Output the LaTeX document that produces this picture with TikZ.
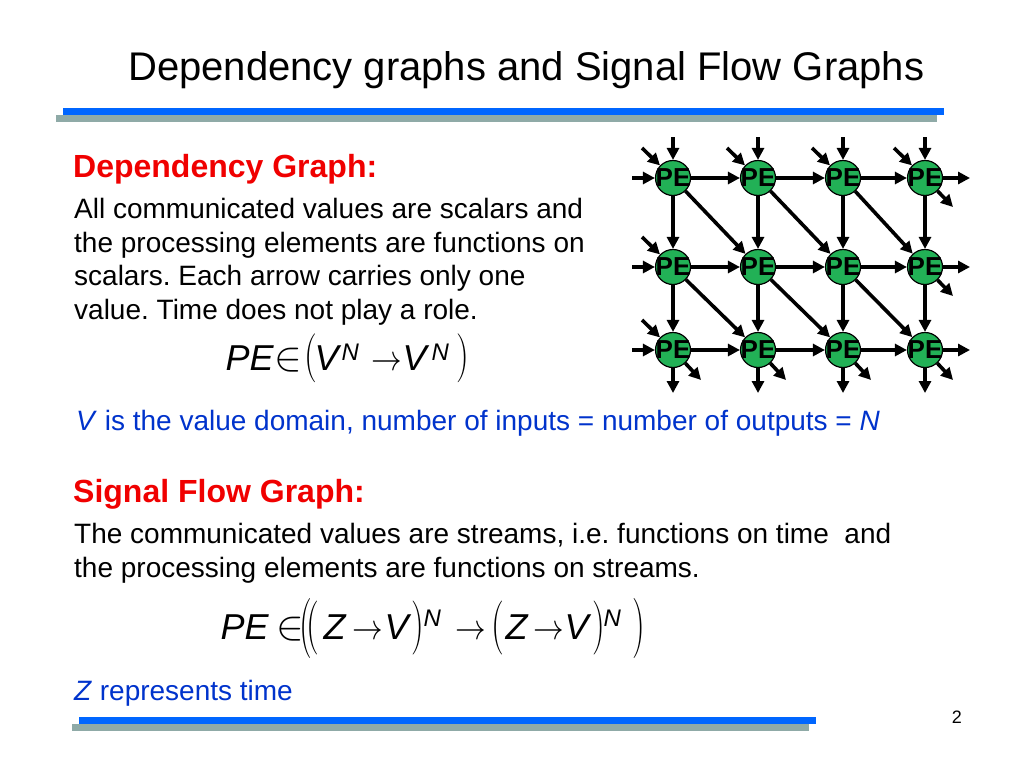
\RequirePackage{fix-cm}
\documentclass[tikz,border=0pt]{standalone}
\usepackage{fontspec}
\setmainfont{Liberation Sans}
\usepackage{graphicx}
\usetikzlibrary{arrows.meta,calc}
\definecolor{barblue}{RGB}{0,102,255}
\definecolor{bargray}{RGB}{143,170,167}
\definecolor{hred}{RGB}{240,0,0}
\definecolor{tblue}{RGB}{0,51,204}
\definecolor{pegreen}{RGB}{34,177,86}
\newcommand{\fs}[1]{\fontsize{#1}{#1}\selectfont}
\newcommand{\supN}[1]{\raisebox{#1}{\fs{24}\itshape N}}
\newcommand{\elem}{\scalebox{1.15}{$\in$}}
\frenchspacing
\begin{document}
\begin{tikzpicture}[x=1pt,y=-1pt,
  txt/.style={anchor=base west, inner sep=0pt, font=\fs{28}},
  head/.style={anchor=base west, inner sep=0pt, font=\fs{32}\bfseries, text=hred},
  pe/.style={circle, draw=black, line width=1.2pt, fill=pegreen, minimum size=35pt, inner sep=0pt, font=\fs{26}\bfseries},
  arr/.style={line width=3.6pt, -{Triangle[length=12pt,width=12pt]}}]
\useasboundingbox (0,0) rectangle (1024,768);
\fill[white] (0,0) rectangle (1024,768);
% bars
\fill[barblue] (63,108) rectangle (944,115);
\fill[bargray] (56,115) rectangle (937,122);
\fill[barblue] (79,717) rectangle (816,724);
\fill[bargray] (72,724) rectangle (809,731);
% title
\node[anchor=base west, inner sep=0pt, font=\fs{40}] (title) at (128,81) {Dependency graphs and Signal Flow Graphs};
% dependency graph text
\node[head] (h1) at (73,177) {Dependency Graph:};
\node[txt] (d1) at (74,218) {All communicated values are scalars and};
\node[txt] (d2) at (74,252) {the processing elements are functions on};
\node[txt] (d3) at (74,285) {scalars. Each arrow carries only one};
\node[txt] (d4) at (74,319) {value. Time does not play a role.};
% formula 1
\node[anchor=base west, inner sep=0pt, font=\fs{36}] (f1) at (225,370) {%
\rlap{\itshape PE}%
\rlap{\hspace{48.5pt}\elem}%
\rlap{\hspace{79pt}\scalebox{1}[1.36]{$($}}%
\rlap{\hspace{89pt}\itshape V}%
\rlap{\hspace{116pt}\supN{10pt}}%
\rlap{\hspace{146pt}\scalebox{0.85}[1]{$\rightarrow$}}%
\rlap{\hspace{177pt}\itshape V}%
\rlap{\hspace{206pt}\supN{10pt}}%
\rlap{\hspace{231pt}\scalebox{1}[1.36]{$)$}}%
\hspace{243pt}};
% blue line
\node[txt, text=tblue] (vline) at (76,430) {\textit{V} is the value domain, number of inputs = number of outputs = \textit{N}};
% signal flow graph
\node[head] (h2) at (73,502) {Signal Flow Graph:};
\node[txt] (s1) at (74,543) {The communicated values are streams, i.e. functions on time\ \ and};
\node[txt] (s2) at (74,577) {the processing elements are functions on streams.};
% formula 2
\node[anchor=base west, inner sep=0pt, font=\fs{36}] (f2) at (220,639) {%
\rlap{\itshape PE}%
\rlap{\hspace{55.5pt}\elem}%
\rlap{\hspace{79pt}\raisebox{-4pt}{\scalebox{1}[1.67]{$($}}}%
\rlap{\hspace{86pt}\raisebox{-2.5pt}{\scalebox{1}[1.5]{$($}}}%
\rlap{\hspace{103pt}\itshape Z}%
\rlap{\hspace{132pt}\scalebox{0.85}[1]{$\rightarrow$}}%
\rlap{\hspace{164pt}\itshape V}%
\rlap{\hspace{191pt}\raisebox{-2.5pt}{\scalebox{1}[1.5]{$)$}}}%
\rlap{\hspace{203pt}\supN{13pt}}%
\rlap{\hspace{235pt}\scalebox{0.85}[1]{$\rightarrow$}}%
\rlap{\hspace{271pt}\raisebox{-2.5pt}{\scalebox{1}[1.5]{$($}}}%
\rlap{\hspace{285pt}\itshape Z}%
\rlap{\hspace{313pt}\scalebox{0.85}[1]{$\rightarrow$}}%
\rlap{\hspace{344pt}\itshape V}%
\rlap{\hspace{372pt}\raisebox{-2.5pt}{\scalebox{1}[1.5]{$)$}}}%
\rlap{\hspace{383pt}\supN{13pt}}%
\rlap{\hspace{412pt}\raisebox{-4pt}{\scalebox{1}[1.67]{$)$}}}%
\hspace{426pt}};
\node[txt, text=tblue] (zline) at (74,700) {\textit{Z} represents time};
\node[anchor=base east, inner sep=0pt, font=\fs{18}] (pg) at (962,723) {2};
% PE grid
\foreach \r/\y in {1/178,2/267,3/350}
  \foreach \c/\x in {1/673,2/758,3/843,4/925}
    \node[pe] (n\r\c) at (\x,\y) {\makebox[0pt]{PE}};
% free ends
\foreach \c in {1,2,3,4} {
  \coordinate (t\c) at ($(n1\c)+(0,-41)$);
  \coordinate (b\c) at ($(n3\c)+(0,43)$);
  \coordinate (di\c) at ($(n1\c)+(-31,-30)$);
  \coordinate (eo\c) at ($(n3\c)+(28,30)$);
}
\foreach \r in {1,2,3} {
  \coordinate (l\r) at ($(n\r1)+(-41,0)$);
  \coordinate (rr\r) at ($(n\r4)+(45,0)$);
}
\coordinate (dl2) at ($(n21)+(-31,-30)$);
\coordinate (dl3) at ($(n31)+(-31,-30)$);
\coordinate (er1) at ($(n14)+(28,29)$);
\coordinate (er2) at ($(n24)+(28,29)$);
% arrows
\foreach \c in {1,2,3,4} {
  \draw[arr] (t\c) -- (n1\c);
  \draw[arr] (di\c) -- (n1\c);
  \draw[arr] (n1\c) -- (n2\c);
  \draw[arr] (n2\c) -- (n3\c);
  \draw[arr] (n3\c) -- (b\c);
  \draw[arr] (n3\c) -- (eo\c);
}
\foreach \r in {1,2,3} {
  \draw[arr] (l\r) -- (n\r1);
  \draw[arr] (n\r1) -- (n\r2);
  \draw[arr] (n\r2) -- (n\r3);
  \draw[arr] (n\r3) -- (n\r4);
  \draw[arr] (n\r4) -- (rr\r);
}
\draw[arr] (dl2) -- (n21);
\draw[arr] (dl3) -- (n31);
\foreach \r/\s in {1/2,2/3}
  \foreach \c/\d in {1/2,2/3,3/4}
    \draw[arr] (n\r\c) -- (n\s\d);
\draw[arr] (n14) -- (er1);
\draw[arr] (n24) -- (er2);
\end{tikzpicture}
\end{document}
